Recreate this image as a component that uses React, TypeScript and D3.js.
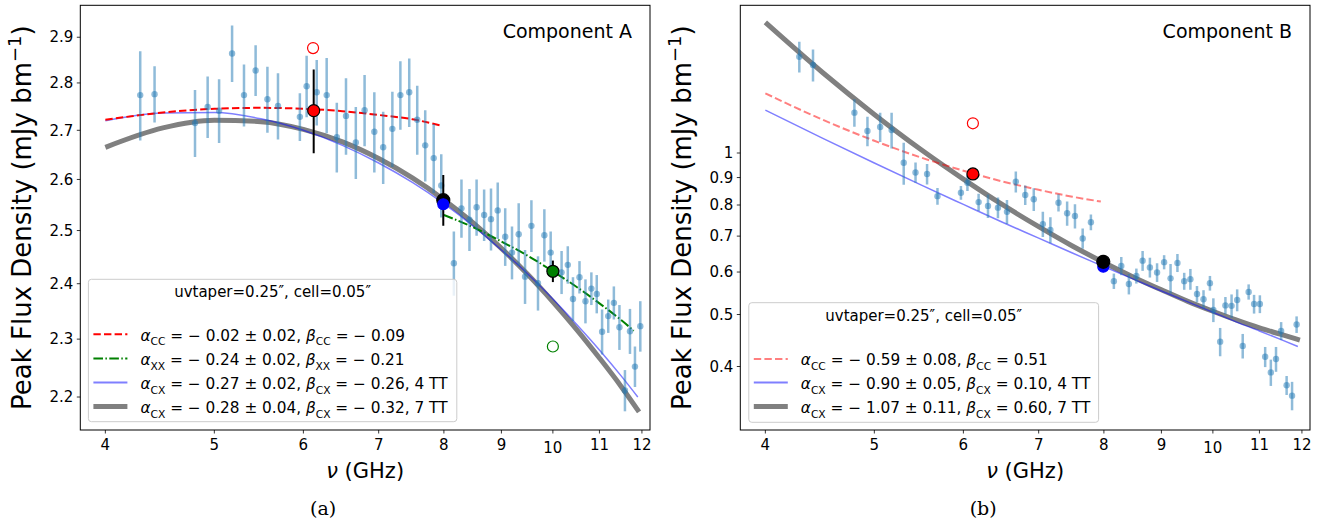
import React from 'react';
import * as d3 from 'd3';

// ---------- tick values ----------
const xTicks = [4, 5, 6, 7, 8, 9, 10, 11, 12];
const yTicksA = [2.2, 2.3, 2.4, 2.5, 2.6, 2.7, 2.8, 2.9];
const yTicksB = [0.4, 0.5, 0.6, 0.7, 0.8, 0.9, 1];

// ---------- Component A measurements ----------
const freqA = [4.296, 4.424, 4.806, 4.932, 5.049, 5.185, 5.313, 5.441, 5.574, 5.696, 5.957, 6.04, 6.166, 6.293, 6.425, 6.547, 6.68, 6.801, 6.938, 7.065, 7.199, 7.318, 7.452, 7.575, 7.70, 7.835, 7.957,
  8.165, 8.293, 8.43, 8.554, 8.687, 8.81, 8.932, 9.07, 9.197, 9.324, 9.446, 9.57, 9.70, 9.827, 9.955,
  10.18, 10.31, 10.42, 10.56, 10.69, 10.82, 10.94, 11.06, 11.20, 11.33, 11.46, 11.59, 11.71, 11.83, 11.96];
const fluxA = [2.774, 2.776, 2.715, 2.749, 2.741, 2.864, 2.774, 2.827, 2.765, 2.751, 2.728, 2.793, 2.780, 2.774, 2.686, 2.730, 2.675, 2.742, 2.697, 2.665, 2.703, 2.774, 2.780, 2.722, 2.669, 2.643, 2.588,
  2.438, 2.543, 2.521, 2.545, 2.530, 2.522, 2.539, 2.488, 2.458, 2.493, 2.413, 2.509, 2.401, 2.491, 2.458,
  2.421, 2.435, 2.372, 2.412, 2.368, 2.391, 2.381, 2.313, 2.341, 2.365, 2.321, 2.211, 2.314, 2.252, 2.323];
const errA = [0.095, 0.06, 0.07, 0.065, 0.067, 0.062, 0.066, 0.055, 0.07, 0.07, 0.05, 0.066, 0.07, 0.08, 0.072, 0.08, 0.074, 0.075, 0.083, 0.074, 0.078, 0.073, 0.073, 0.072, 0.073, 0.07, 0.063,
  0.06, 0.057, 0.06, 0.055, 0.05, 0.06, 0.055, 0.055, 0.05, 0.06, 0.05, 0.05, 0.05, 0.05, 0.04,
  0.04, 0.035, 0.04, 0.03, 0.04, 0.03, 0.035, 0.04, 0.03, 0.03, 0.04, 0.035, 0.04, 0.035, 0.045];

// fitted curves, Component A
const redFreqA = [4, 4.5, 5, 5.5, 6, 6.5, 7, 7.5, 7.95];
const redA = [2.722, 2.737, 2.745, 2.747, 2.745, 2.740, 2.732, 2.723, 2.710];
const greenFreqA = [8, 8.5, 9, 9.5, 10, 10.5, 11, 11.5, 11.8];
const greenA = [2.530, 2.506, 2.479, 2.452, 2.423, 2.394, 2.364, 2.334, 2.315];
const blueFreqA = [4, 4.5, 5, 5.5, 6, 6.5, 7, 7.5, 8, 8.5, 9, 9.5, 10, 10.5, 11, 11.5, 11.9];
const blueA = [2.72, 2.736, 2.737, 2.724, 2.700, 2.669, 2.633, 2.594, 2.552, 2.508, 2.463, 2.418, 2.372, 2.326, 2.281, 2.236, 2.200];
const grayFreqA = [4, 4.5, 5, 5.5, 6, 6.5, 7, 7.5, 8, 8.5, 9, 9.5, 10, 10.5, 11, 11.5, 11.93];
const grayA = [2.665, 2.705, 2.721, 2.718, 2.702, 2.676, 2.642, 2.603, 2.56, 2.514, 2.466, 2.417, 2.367, 2.317, 2.267, 2.218, 2.175];

// ---------- Component B measurements ----------
const freqB = [4.288, 4.41, 4.80, 4.93, 5.06, 5.18, 5.31, 5.44, 5.57, 5.69, 5.97, 6.05, 6.19, 6.31, 6.44, 6.56, 6.68, 6.81, 6.93, 7.06, 7.17, 7.29, 7.42, 7.54, 7.66, 7.79,
  8.165, 8.29, 8.42, 8.55, 8.66, 8.79, 8.92, 9.05, 9.17, 9.30, 9.43, 9.55, 9.68, 9.81, 9.94, 10.01, 10.15, 10.26, 10.39, 10.51,
  10.63, 10.76, 10.88, 11.01, 11.13, 11.26, 11.38, 11.50, 11.63, 11.76, 11.87];
const fluxB = [1.512, 1.459, 1.189, 1.099, 1.118, 1.104, 0.959, 0.920, 0.914, 0.831, 0.843, 0.880, 0.810, 0.797, 0.791, 0.777, 0.884, 0.835, 0.820, 0.737, 0.719, 0.808, 0.772, 0.763, 0.693, 0.743,
  0.577, 0.616, 0.570, 0.590, 0.630, 0.612, 0.599, 0.626, 0.584, 0.624, 0.577, 0.582, 0.546, 0.534, 0.572, 0.510, 0.445, 0.520, 0.519, 0.532,
  0.437, 0.551, 0.523, 0.523, 0.417, 0.390, 0.413, 0.466, 0.369, 0.353, 0.479];
const errB = [0.1, 0.1, 0.07, 0.07, 0.07, 0.085, 0.086, 0.04, 0.04, 0.03, 0.025, 0.03, 0.03, 0.04, 0.035, 0.04, 0.04, 0.035, 0.04, 0.04, 0.04, 0.03, 0.04, 0.04, 0.03, 0.025,
  0.019, 0.024, 0.025, 0.019, 0.027, 0.026, 0.024, 0.019, 0.037, 0.024, 0.021, 0.026, 0.019, 0.021, 0.018, 0.026, 0.027, 0.019, 0.026, 0.025,
  0.023, 0.018, 0.021, 0.02, 0.018, 0.022, 0.022, 0.018, 0.015, 0.0215, 0.017];

// fitted curves, Component B
const redFreqB = [4, 4.5, 5, 5.5, 6, 6.5, 7, 7.5, 7.95];
const redB = [1.292, 1.153, 1.054, 0.981, 0.927, 0.885, 0.854, 0.829, 0.812];
const blueFreqB = [4, 4.5, 5, 5.5, 6, 6.5, 7, 7.5, 8, 8.5, 9, 9.5, 10, 10.5, 11, 11.5, 11.9];
const blueB = [1.202, 1.065, 0.958, 0.872, 0.802, 0.743, 0.694, 0.651, 0.614, 0.582, 0.553, 0.528, 0.505, 0.484, 0.466, 0.449, 0.436];
const grayFreqB = [4, 4.5, 5, 5.5, 6, 6.5, 7, 7.5, 8, 8.5, 9, 9.5, 10, 10.5, 11, 11.5, 11.95];
const grayB = [1.751, 1.411, 1.180, 1.015, 0.894, 0.801, 0.729, 0.671, 0.625, 0.587, 0.556, 0.529, 0.507, 0.488, 0.472, 0.459, 0.448];

// ---------- special markers ----------
const markersA = [
  { f: 6.12, v: 2.876, fill: 'none', stroke: 'red', r: 5.5, err: 0 },
  { f: 6.128, v: 2.741, fill: 'red', stroke: 'black', r: 6, err: 0.088 },
  { f: 7.99, v: 2.559, fill: 'black', stroke: 'black', r: 6.5, err: 0.05 },
  { f: 7.99, v: 2.551, fill: 'blue', stroke: 'blue', r: 5.5, err: 0 },
  { f: 10.0, v: 2.423, fill: 'green', stroke: 'black', r: 6, err: 0.02 },
  { f: 10.0, v: 2.287, fill: 'none', stroke: 'green', r: 5.5, err: 0 },
];
const markersB = [
  { f: 6.118, v: 1.136, fill: 'none', stroke: 'red', r: 5.5, err: 0 },
  { f: 6.118, v: 0.914, fill: 'red', stroke: 'black', r: 6, err: 0.02 },
  { f: 7.99, v: 0.614, fill: 'blue', stroke: 'blue', r: 5.5, err: 0 },
  { f: 7.99, v: 0.627, fill: 'black', stroke: 'black', r: 6.5, err: 0.015 },
];

const FONT = 'DejaVu Sans, Verdana, sans-serif';

type Part = { t: string; it?: boolean; sub?: boolean };

function MathText({ x, y, parts, size }: { x: number; y: number; parts: Part[]; size: number }) {
  const nodes: any[] = [];
  let down = false;
  parts.forEach((p, i) => {
    let dy = 0;
    if (p.sub && !down) { dy = size * 0.3; down = true; }
    else if (!p.sub && down) { dy = -size * 0.3; down = false; }
    nodes.push(
      <tspan key={i} dy={dy} fontStyle={p.it ? 'italic' : 'normal'} fontSize={p.sub ? size * 0.7 : size}>
        {p.t}
      </tspan>
    );
  });
  return (
    <text x={x} y={y} fontFamily={FONT} fontSize={size} fill="black" style={{ whiteSpace: 'pre' }}>
      {nodes}
    </text>
  );
}

function entry(sub: string, a: string, b: string, tail: string): Part[] {
  return [
    { t: 'α', it: true }, { t: sub, sub: true }, { t: ' = ' + a + ', ' },
    { t: 'β', it: true }, { t: sub, sub: true }, { t: ' = ' + b + tail },
  ];
}

type Curve = { fx: number[]; fy: number[]; color: string; width: number; dash?: string; opacity?: number };
type Marker = { f: number; v: number; fill: string; stroke: string; r: number; err: number };
type LegendItem = { color: string; width: number; dash?: string; opacity?: number; parts: Part[] };

function Panel(props: {
  left: number; right: number; top: number; bottom: number;
  yDomain: [number, number]; yTicks: number[];
  freq: number[]; flux: number[]; err: number[];
  curves: Curve[]; markers: Marker[];
  label: string; caption: string;
  legend: { x0: number; x1: number; y0: number; y1: number; titleY: number; rows: number[]; items: LegendItem[] };
}) {
  const { left, right, top, bottom, yDomain, yTicks, freq, flux, err, curves, markers, legend } = props;
  const x = d3.scaleLog().domain([3.8, 12.2]).range([left, right]);
  const y = d3.scaleLog().domain(yDomain).range([bottom, top]);
  const cx = (left + right) / 2;
  const cy = (top + bottom) / 2;
  return (
    <g>
      <defs>
        <clipPath id={'clip' + props.caption.replace(/[()]/g, '')}>
          <rect x={left} y={top} width={right - left} height={bottom - top} />
        </clipPath>
      </defs>
      <g clipPath={`url(#clip${props.caption.replace(/[()]/g, '')})`}>
        {curves.map((c, i) => {
          const pts = c.fx.map((f, j) => [x(f), y(c.fy[j])] as [number, number]);
          const path = d3.line().curve(d3.curveMonotoneX)(pts) || '';
          return <path key={i} d={path} fill="none" stroke={c.color} strokeWidth={c.width}
            strokeDasharray={c.dash} strokeOpacity={c.opacity ?? 1} />;
        })}
        {freq.map((f, i) => (
          <line key={'e' + i} x1={x(f)} x2={x(f)} y1={y(flux[i] - err[i])} y2={y(flux[i] + err[i])}
            stroke="#1f77b4" strokeOpacity={0.5} strokeWidth={2.5} />
        ))}
        {freq.map((f, i) => (
          <circle key={'p' + i} cx={x(f)} cy={y(flux[i])} r={3.2} fill="#1f77b4" fillOpacity={0.5} />
        ))}
        {markers.map((m, i) => (
          <g key={'m' + i}>
            {m.err > 0 && <line x1={x(m.f)} x2={x(m.f)} y1={y(m.v - m.err)} y2={y(m.v + m.err)} stroke="black" strokeWidth={2} />}
            <circle cx={x(m.f)} cy={y(m.v)} r={m.r} fill={m.fill} stroke={m.stroke} strokeWidth={1.2} />
          </g>
        ))}
      </g>
      {/* legend */}
      <rect x={legend.x0} y={legend.y0} width={legend.x1 - legend.x0} height={legend.y1 - legend.y0} rx={3}
        fill="white" fillOpacity={0.8} stroke="#cccccc" strokeWidth={1} />
      <text x={(legend.x0 + legend.x1) / 2} y={legend.titleY} textAnchor="middle" fontFamily={FONT} fontSize={15}>
        uvtaper=0.25″, cell=0.05″
      </text>
      {legend.items.map((it, i) => (
        <g key={'l' + i}>
          <line x1={legend.x0 + 5} x2={legend.x0 + 39} y1={legend.rows[i] - 6.4} y2={legend.rows[i] - 6.4}
            stroke={it.color} strokeWidth={it.width} strokeDasharray={it.dash} strokeOpacity={it.opacity ?? 1} />
          <MathText x={legend.x0 + 52} y={legend.rows[i]} parts={it.parts} size={15.3} />
        </g>
      ))}
      {/* frame */}
      <rect x={left} y={top} width={right - left} height={bottom - top} fill="none" stroke="black" strokeWidth={1} />
      {/* x ticks */}
      {xTicks.map((t) => (
        <g key={'xt' + t}>
          <line x1={x(t)} x2={x(t)} y1={bottom} y2={bottom + 3.5} stroke="black" strokeWidth={0.8} />
          <text x={x(t)} y={bottom + 20 + (t === 10 ? 3 : 0)} textAnchor="middle" fontFamily={FONT} fontSize={15}>{t}</text>
        </g>
      ))}
      {/* y ticks */}
      {yTicks.map((t) => (
        <g key={'yt' + t}>
          <line x1={left - 3.5} x2={left} y1={y(t)} y2={y(t)} stroke="black" strokeWidth={0.8} />
          <text x={left - 7} y={y(t)} dy="0.35em" textAnchor="end" fontFamily={FONT} fontSize={15}>{t}</text>
        </g>
      ))}
      <text x={right - 18} y={top + 33} textAnchor="end" fontFamily={FONT} fontSize={19}>{props.label}</text>
      <text x={cx} y={478} textAnchor="middle" fontFamily={FONT} fontSize={21} style={{ whiteSpace: 'pre' }}>
        <tspan fontStyle="italic">ν</tspan> (GHz)
      </text>
      <text transform={`translate(${left - 49},${cy}) rotate(-90)`} textAnchor="middle" fontFamily={FONT} fontSize={26}>
        Peak Flux Density (mJy bm<tspan dy={-10} fontSize={18}>−1</tspan><tspan dy={10}>)</tspan>
      </text>
      <text x={cx - 42} y={515} textAnchor="middle" fontFamily="DejaVu Serif, Liberation Serif, serif" fontSize={19}>{props.caption}</text>
    </g>
  );
}

export default function App() {
  return (
    <svg width={1332} height={525} style={{ position: 'absolute', left: 0, top: 0, background: 'white' }}>
      <rect width={1332} height={525} fill="white" />
      <Panel
        left={80.3} right={650} top={5.3} bottom={430}
        yDomain={[2.145, 2.972]} yTicks={yTicksA}
        freq={freqA} flux={fluxA} err={errA}
        curves={[
          { fx: grayFreqA, fy: grayA, color: 'gray', width: 5 },
          { fx: blueFreqA, fy: blueA, color: 'blue', width: 1.5, opacity: 0.5 },
          { fx: greenFreqA, fy: greenA, color: 'green', width: 2, dash: '9.6,2.4,1.5,2.4' },
          { fx: redFreqA, fy: redA, color: 'red', width: 2, dash: '7.4,3.2' },
        ]}
        markers={markersA}
        label="Component A" caption="(a)"
        legend={{
          x0: 88.4, x1: 456.8, y0: 279.3, y1: 421.7, titleY: 297, rows: [340.7, 365, 389, 413],
          items: [
            { color: 'red', width: 2, dash: '7.4,3.2', parts: entry('CC', '− 0.02 ± 0.02', '− 0.09', '') },
            { color: 'green', width: 2, dash: '9.6,2.4,1.5,2.4', parts: entry('XX', '− 0.24 ± 0.02', '− 0.21', '') },
            { color: 'blue', width: 2, opacity: 0.5, parts: entry('CX', '− 0.27 ± 0.02', '− 0.26', ', 4 TT') },
            { color: 'gray', width: 5, parts: entry('CX', '− 0.28 ± 0.04', '− 0.32', ', 7 TT') },
          ],
        }}
      />
      <Panel
        left={740.3} right={1310} top={5.3} bottom={430}
        yDomain={[0.3046, 1.885]} yTicks={yTicksB}
        freq={freqB} flux={fluxB} err={errB}
        curves={[
          { fx: grayFreqB, fy: grayB, color: 'gray', width: 5 },
          { fx: blueFreqB, fy: blueB, color: 'blue', width: 1.5, opacity: 0.5 },
          { fx: redFreqB, fy: redB, color: 'red', width: 2, dash: '7.4,3.2', opacity: 0.5 },
        ]}
        markers={markersB}
        label="Component B" caption="(b)"
        legend={{
          x0: 748.8, x1: 1098.6, y0: 302.7, y1: 422.3, titleY: 321, rows: [365.4, 389, 413],
          items: [
            { color: 'red', width: 2, dash: '7.4,3.2', opacity: 0.5, parts: entry('CC', '− 0.59 ± 0.08', '0.51', '') },
            { color: 'blue', width: 2, opacity: 0.5, parts: entry('CX', '− 0.90 ± 0.05', '0.10', ', 4 TT') },
            { color: 'gray', width: 5, parts: entry('CX', '− 1.07 ± 0.11', '0.60', ', 7 TT') },
          ],
        }}
      />
    </svg>
  );
}
